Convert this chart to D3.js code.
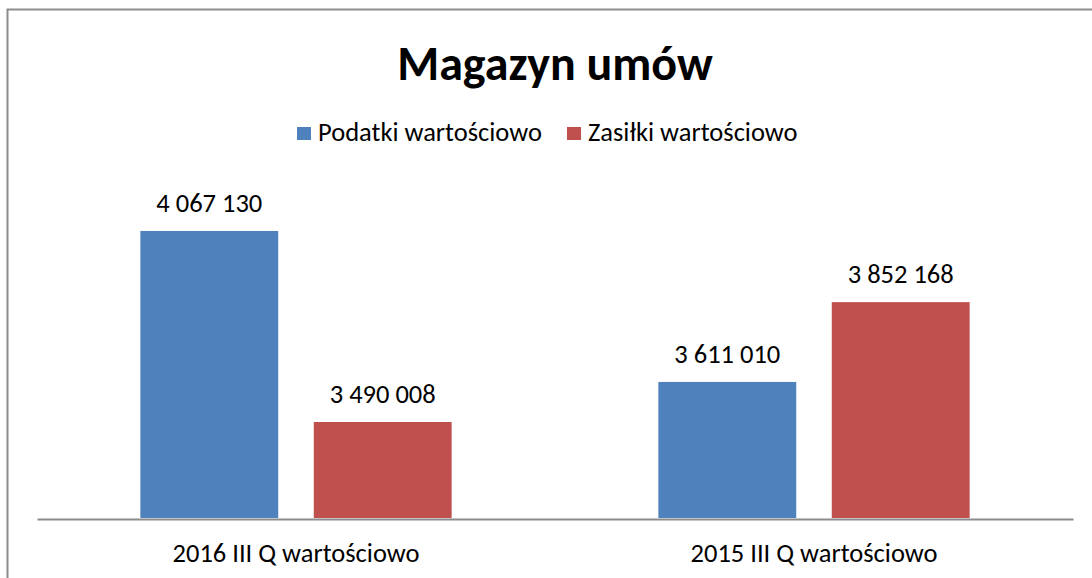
<!DOCTYPE html>
<html>
<head>
<meta charset="utf-8">
<script src="https://cdn.jsdelivr.net/npm/d3@7"></script>
<style>
  body { margin: 0; background: #fff; }
  text { font-family: Carlito, Lato, "Open Sans", sans-serif; fill: #000; }
</style>
</head>
<body>
<div id="chart"></div>
<script>
      var categories = ["2016 III Q wartościowo", "2015 III Q wartościowo"];
      var seriesNames = ["Podatki wartościowo", "Zasiłki wartościowo"];
      var podatki = [4067130, 3611010];
      var zasilki = [3490008, 3852168];
      var yDomain = [3200000, 4200000];

      var colors = ["#4f81bd", "#c0504d"];

      var width = 1092, height = 578;

      var svg = d3.select("#chart").append("svg")
          .attr("width", width)
          .attr("height", height);

      // chart border (cut off at right and bottom)
      svg.append("rect")
          .attr("x", 7.5).attr("y", 9.5)
          .attr("width", 1110).attr("height", 600)
          .attr("fill", "none")
          .attr("stroke", "#8c8c8c")
          .attr("stroke-width", 2);

      // title
      svg.append("text")
          .attr("x", 555).attr("y", 80)
          .attr("text-anchor", "middle")
          .attr("font-weight", "bold")
          .attr("font-size", 48)
          .text("Magazyn umów");

      var data = categories.map(function(c, i) {
          return {cat: c, values: [podatki[i], zasilki[i]]};
      });

      ////// Scales /////////////////
      var x0 = d3.scaleBand()
          .domain(categories)
          .range([37, 1073]);
      var x1 = d3.scaleBand()
          .domain(seriesNames)
          .range([0, x0.bandwidth()])
          .paddingInner(0.205)
          .paddingOuter(0.596);
      var yScale = d3.scaleLinear()
          .domain(yDomain)
          .range([518, 187]);

      // bars
      var groups = svg.append("g").selectAll("g")
          .data(data)
          .enter().append("g")
          .attr("transform", function(d) { return "translate(" + x0(d.cat) + ",0)"; });

      groups.selectAll("rect")
          .data(function(d) { return d.values.map(function(v, i) { return {s: seriesNames[i], v: v, i: i}; }); })
          .enter().append("rect")
          .attr("x", function(d) { return x1(d.s); })
          .attr("y", function(d) { return yScale(d.v); })
          .attr("width", x1.bandwidth())
          .attr("height", function(d) { return yScale(yDomain[0]) - yScale(d.v); })
          .attr("fill", function(d) { return colors[d.i]; });

      // value labels
      var fmt = function(v) { return d3.format(",")(v).replace(/,/g, " "); };
      groups.selectAll("text.val")
          .data(function(d) { return d.values.map(function(v, i) { return {s: seriesNames[i], v: v}; }); })
          .enter().append("text")
          .attr("class", "val")
          .attr("x", function(d) { return x1(d.s) + x1.bandwidth() / 2; })
          .attr("y", function(d) { return yScale(d.v) - 19; })
          .attr("text-anchor", "middle")
          .attr("font-size", 26.5)
          .text(function(d) { return fmt(d.v); });

      // x axis
      var xAxis = d3.axisBottom(x0).tickSize(0).tickPadding(24);
      var gx = svg.append("g")
          .attr("transform", "translate(0,519)")
          .call(xAxis);
      gx.select(".domain").attr("stroke", "#8c8c8c").attr("stroke-width", 2);
      gx.selectAll("text")
          .attr("font-size", 26.5)
          .attr("font-family", "Carlito, Lato, 'Open Sans', sans-serif")
          .attr("fill", "#000");

      // legend
      var legendX = [297, 567];
      var legend = svg.append("g").selectAll("g")
          .data(seriesNames)
          .enter().append("g")
          .attr("transform", function(d, i) { return "translate(" + legendX[i] + ",0)"; });
      legend.append("rect")
          .attr("x", 0).attr("y", 127)
          .attr("width", 14).attr("height", 13)
          .attr("fill", function(d, i) { return colors[i]; });
      legend.append("text")
          .attr("x", 21).attr("y", 141)
          .attr("font-size", 26.5)
          .text(function(d) { return d; });
</script>
</body>
</html>
